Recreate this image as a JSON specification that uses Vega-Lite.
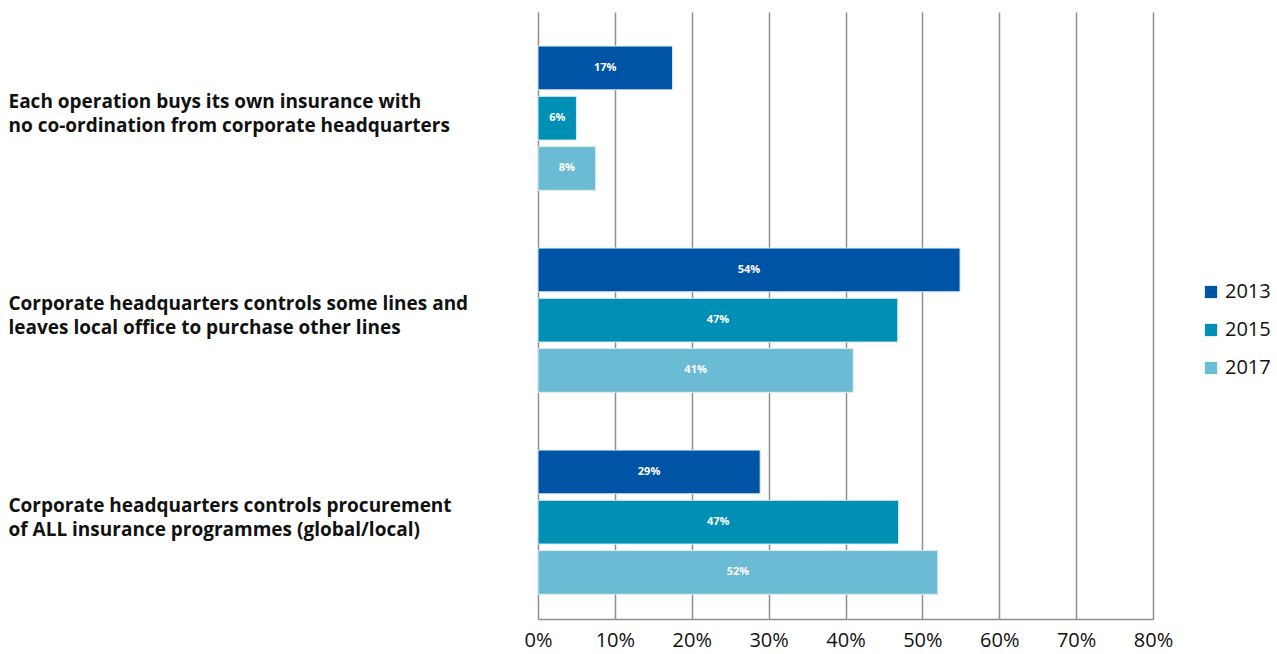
{
  "$schema": "https://vega.github.io/schema/vega-lite/v6.json",
  "width": 615,
  "height": 607,
  "autosize": {"type": "none"},
  "padding": {"left": 538, "top": 12, "right": 124, "bottom": 35},
  "background": "white",
  "data": {
    "values": [
      {"category": "Each operation buys its own insurance with|no co-ordination from corporate headquarters", "year": "2013", "value": 17.5, "label": "17%"},
      {"category": "Each operation buys its own insurance with|no co-ordination from corporate headquarters", "year": "2015", "value": 5.0, "label": "6%"},
      {"category": "Each operation buys its own insurance with|no co-ordination from corporate headquarters", "year": "2017", "value": 7.5, "label": "8%"},
      {"category": "Corporate headquarters controls some lines and|leaves local office to purchase other lines", "year": "2013", "value": 54.9, "label": "54%"},
      {"category": "Corporate headquarters controls some lines and|leaves local office to purchase other lines", "year": "2015", "value": 46.8, "label": "47%"},
      {"category": "Corporate headquarters controls some lines and|leaves local office to purchase other lines", "year": "2017", "value": 41.0, "label": "41%"},
      {"category": "Corporate headquarters controls procurement|of ALL insurance programmes (global/local)", "year": "2013", "value": 28.9, "label": "29%"},
      {"category": "Corporate headquarters controls procurement|of ALL insurance programmes (global/local)", "year": "2015", "value": 46.9, "label": "47%"},
      {"category": "Corporate headquarters controls procurement|of ALL insurance programmes (global/local)", "year": "2017", "value": 52.0, "label": "52%"}
    ]
  },
  "encoding": {
    "y": {
      "field": "category",
      "type": "nominal",
      "sort": null,
      "scale": {"paddingInner": 0.286, "paddingOuter": 0.1455, "align": 0.58},
      "axis": {
        "title": null,
        "ticks": false,
        "domain": false,
        "labelAlign": "left",
        "labelBaseline": "middle",
        "labelPadding": 530,
        "labelFont": "Open Sans",
        "labelFontWeight": "bold",
        "labelFontSize": 19,
        "labelColor": "#111111",
        "labelLineHeight": 24,
        "labelLimit": 0,
        "labelOffset": -16,
        "labelExpr": "split(datum.label, '|')"
      }
    },
    "yOffset": {
      "field": "year",
      "type": "nominal",
      "sort": ["2013", "2015", "2017"],
      "scale": {"paddingInner": 0.13, "paddingOuter": 0}
    }
  },
  "layer": [
    {
      "mark": {"type": "bar", "stroke": "#d9eaf5", "strokeWidth": 1},
      "encoding": {
        "x": {
          "field": "value",
          "type": "quantitative",
          "scale": {"domain": [0, 80], "nice": false},
          "axis": {
            "title": null,
            "values": [0, 10, 20, 30, 40, 50, 60, 70, 80],
            "labelExpr": "datum.value + '%'",
            "grid": true,
            "gridColor": "#8f8f8f",
            "gridWidth": 1.5,
            "domain": true,
            "domainColor": "#8f8f8f",
            "domainWidth": 1.5,
            "ticks": false,
            "labelPadding": 11,
            "labelFont": "Open Sans",
            "labelFontSize": 20,
            "labelColor": "#111111",
            "labelFlush": false
          }
        },
        "color": {
          "field": "year",
          "type": "nominal",
          "scale": {"domain": ["2013", "2015", "2017"], "range": ["#0054a6", "#0090b5", "#6cbbd5"]},
          "legend": {
            "title": null,
            "orient": "none",
            "legendX": 663,
            "legendY": 270,
            "symbolType": "square",
            "symbolSize": 150,
            "symbolStrokeWidth": 0,
            "labelFont": "Open Sans",
            "labelFontSize": 20,
            "labelColor": "#111111",
            "rowPadding": 18,
            "labelOffset": 4
          }
        }
      }
    },
    {
      "transform": [{"calculate": "datum.value / 2", "as": "mid"}],
      "mark": {"type": "text", "color": "white", "font": "Open Sans", "fontWeight": "bold", "fontSize": 11, "baseline": "middle", "align": "center"},
      "encoding": {
        "x": {"field": "mid", "type": "quantitative"},
        "text": {"field": "label"}
      }
    }
  ],
  "config": {"view": {"stroke": null}}
}
